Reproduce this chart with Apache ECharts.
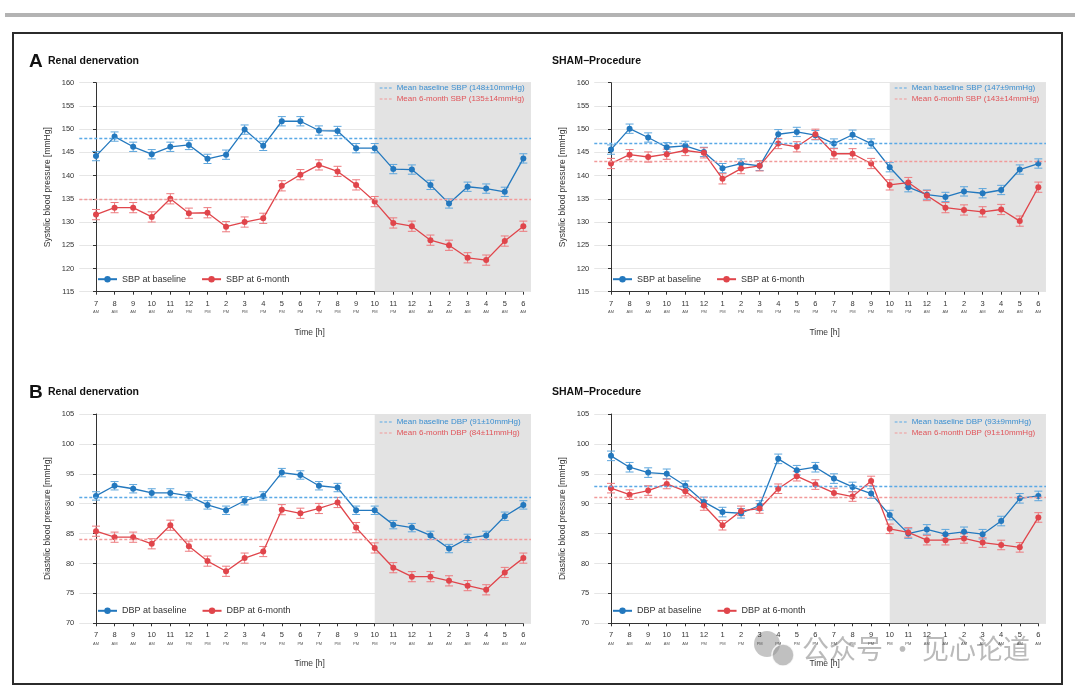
<!DOCTYPE html>
<html><head><meta charset="utf-8">
<script src="https://cdn.jsdelivr.net/npm/echarts@6/dist/echarts.min.js"></script>
<style>html,body{margin:0;padding:0;background:#fff}#c{width:1080px;height:695px}</style>
</head><body><div id="c"></div>
<script>
// ---------- data ----------
const hours = ['7','8','9','10','11','12','1','2','3','4','5','6','7','8','9','10','11','12','1','2','3','4','5','6'];
const meridiem = ['AM','AM','AM','AM','AM','PM','PM','PM','PM','PM','PM','PM','PM','PM','PM','PM','PM','AM','AM','AM','AM','AM','AM','AM'];
const nightStartIndex = 15; // 10 PM

const sbpRdnBaseline = [144.2,148.4,146.2,144.6,146.2,146.6,143.6,144.5,149.9,146.4,151.7,151.7,149.7,149.6,145.9,145.9,141.4,141.3,138.0,134.0,137.6,137.2,136.5,143.7];
const sbpRdn6m       = [131.6,133.1,133.1,131.1,135.0,131.9,132.0,129.0,130.0,130.8,137.8,140.2,142.3,140.9,138.0,134.4,129.8,129.1,126.1,125.0,122.3,121.8,125.9,129.1];
const sbpShamBaseline= [145.6,150.1,148.2,146.1,146.4,145.1,141.6,142.6,142.1,148.9,149.4,148.7,146.9,148.8,146.9,141.8,137.5,135.9,135.4,136.6,136.2,136.9,141.3,142.6];
const sbpSham6m      = [142.6,144.5,144.0,144.6,145.4,144.9,139.3,141.5,142.1,146.9,146.2,148.9,144.7,144.7,142.6,138.0,138.5,135.7,133.1,132.6,132.2,132.7,130.2,137.5];
const dbpRdnBaseline = [91.3,93.0,92.5,91.8,91.8,91.3,89.8,88.9,90.5,91.3,95.2,94.8,93.0,92.7,88.9,88.9,86.5,86.0,84.7,82.5,84.2,84.7,87.9,89.8];
const dbpRdn6m       = [85.4,84.4,84.4,83.3,86.4,82.9,80.4,78.7,80.9,82.0,89.0,88.4,89.2,90.2,86.0,82.6,79.3,77.8,77.8,77.1,76.3,75.6,78.5,80.9];
const dbpShamBaseline= [98.0,96.1,95.2,95.0,93.0,90.3,88.6,88.4,89.7,97.5,95.6,96.1,94.2,92.8,91.7,88.1,85.0,85.7,84.9,85.3,84.9,87.1,90.9,91.3];
const dbpSham6m      = [92.6,91.5,92.2,93.3,92.1,89.7,86.4,88.8,89.2,92.5,94.6,93.2,91.8,91.2,93.8,85.8,85.2,83.9,83.9,84.2,83.5,83.1,82.7,87.7];

const sbpRdnBaselineErr = [1.0,1.0,1.0,1.0,1.0,1.0,1.0,1.0,1.0,1.0,1.0,1.0,1.0,1.0,1.0,1.0,1.0,1.0,1.0,1.0,1.0,1.0,1.0,1.0];
const sbpRdn6mErr       = [1.1,1.1,1.1,1.1,1.1,1.1,1.1,1.1,1.1,1.1,1.1,1.1,1.1,1.1,1.1,1.1,1.1,1.1,1.1,1.1,1.1,1.1,1.1,1.1];
const sbpShamBaselineErr= [1.0,1.0,1.0,1.0,1.0,1.0,1.0,1.0,1.0,1.0,1.0,1.0,1.0,1.0,1.0,1.0,1.0,1.0,1.0,1.0,1.0,1.0,1.0,1.0];
const sbpSham6mErr      = [1.1,1.1,1.1,1.1,1.1,1.1,1.1,1.1,1.1,1.1,1.1,1.1,1.1,1.1,1.1,1.1,1.1,1.1,1.1,1.1,1.1,1.1,1.1,1.1];
const dbpRdnBaselineErr = [0.7,0.7,0.7,0.7,0.7,0.7,0.7,0.7,0.7,0.7,0.7,0.7,0.7,0.7,0.7,0.7,0.7,0.7,0.7,0.7,0.7,0.7,0.7,0.7];
const dbpRdn6mErr       = [0.85,0.85,0.85,0.85,0.85,0.85,0.85,0.85,0.85,0.85,0.85,0.85,0.85,0.85,0.85,0.85,0.85,0.85,0.85,0.85,0.85,0.85,0.85,0.85];
const dbpShamBaselineErr= [0.8,0.8,0.8,0.8,0.8,0.8,0.8,0.8,0.8,0.8,0.8,0.8,0.8,0.8,0.8,0.8,0.8,0.8,0.8,0.8,0.8,0.8,0.8,0.8];
const dbpSham6mErr      = [0.8,0.8,0.8,0.8,0.8,0.8,0.8,0.8,0.8,0.8,0.8,0.8,0.8,0.8,0.8,0.8,0.8,0.8,0.8,0.8,0.8,0.8,0.8,0.8];

const sbpRdnMeans = [148, 135];
const sbpShamMeans = [147, 143];
const dbpRdnMeans = [91, 84];
const dbpShamMeans = [93, 91];

// ---------- styles / layout ----------
const BLUE = '#2378be', RED = '#e0454b';
const BLUE_ERR = '#5ea6dc', RED_ERR = '#ec7a7e';
const BLUE_MEAN = '#5aa9e6', RED_MEAN = '#f19a9a';
const BLUE_TXT = '#3a8ed0', RED_TXT = '#e0555a';
const FONT = "'Liberation Sans', Arial, sans-serif";
const STEP = 18.58, X_MIN = -0.9, X_MAX = 23.41;
const DASH_ICON = 'path://M0,0h3v1h-3zM5,0h3v1h-3zM10,0h3v1h-3z';

const panels = [
  {cat0: 96, top: 82.7, bottom: 291.7, ymin: 115, ymax: 160, yName: 'Systolic blood pressure [mmHg]',
   base: sbpRdnBaseline, six: sbpRdn6m, baseErr: sbpRdnBaselineErr, sixErr: sbpRdn6mErr,
   means: sbpRdnMeans, sd: ['10','14'], kind: 'SBP', meanTop: 84},
  {cat0: 611, top: 82.7, bottom: 291.7, ymin: 115, ymax: 160, yName: 'Systolic blood pressure [mmHg]',
   base: sbpShamBaseline, six: sbpSham6m, baseErr: sbpShamBaselineErr, sixErr: sbpSham6mErr,
   means: sbpShamMeans, sd: ['9','14'], kind: 'SBP', meanTop: 84},
  {cat0: 96, top: 414, bottom: 623.3, ymin: 70, ymax: 105, yName: 'Diastolic blood pressure [mmHg]',
   base: dbpRdnBaseline, six: dbpRdn6m, baseErr: dbpRdnBaselineErr, sixErr: dbpRdn6mErr,
   means: dbpRdnMeans, sd: ['10','11'], kind: 'DBP', meanTop: 418},
  {cat0: 611, top: 414, bottom: 623.3, ymin: 70, ymax: 105, yName: 'Diastolic blood pressure [mmHg]',
   base: dbpShamBaseline, six: dbpSham6m, baseErr: dbpShamBaselineErr, sixErr: dbpSham6mErr,
   means: dbpShamMeans, sd: ['9','10'], kind: 'DBP', meanTop: 418}
];

const grid = [], xAxis = [], yAxis = [], series = [], legend = [];

function errRender(color) {
  return function (params, api) {
    const x = api.value(0), y = api.value(1), e = api.value(2);
    const hi = api.coord([x, y + e]), lo = api.coord([x, y - e]);
    const cw = 4;
    const st = {stroke: color, lineWidth: 1};
    return {type: 'group', children: [
      {type: 'line', shape: {x1: hi[0], y1: hi[1], x2: lo[0], y2: lo[1]}, style: st},
      {type: 'line', shape: {x1: hi[0] - cw, y1: hi[1], x2: hi[0] + cw, y2: hi[1]}, style: st},
      {type: 'line', shape: {x1: lo[0] - cw, y1: lo[1], x2: lo[0] + cw, y2: lo[1]}, style: st}
    ]};
  };
}

panels.forEach(p => {
  const gi = grid.length;
  const h = p.bottom - p.top;
  grid.push({left: p.cat0 + X_MIN * STEP, top: p.top, width: (X_MAX - X_MIN) * STEP, height: h, containLabel: false});
  grid.push({left: p.cat0, top: p.top, width: 23 * STEP, height: h, containLabel: false});
  const xi = xAxis.length, yi = yAxis.length;
  xAxis.push({type: 'value', gridIndex: gi, min: X_MIN, max: X_MAX, show: false});
  xAxis.push({type: 'category', gridIndex: gi + 1, data: hours, boundaryGap: false,
    axisLine: {show: true, lineStyle: {color: '#333', width: 1}},
    axisTick: {show: true, length: 3, alignWithLabel: true, lineStyle: {color: '#333'}},
    axisLabel: {interval: 0, margin: 7, color: '#333',
      formatter: (v, i) => `{n|${v}}\n{s|${meridiem[i]}}`,
      rich: {n: {fontSize: 7.5, lineHeight: 10, color: '#333', fontFamily: FONT},
             s: {fontSize: 4, lineHeight: 7, color: '#555', fontFamily: FONT}}},
    splitLine: {show: false},
    name: 'Time [h]', nameLocation: 'middle', nameGap: 36,
    nameTextStyle: {fontSize: 8.5, color: '#333', fontFamily: FONT}});
  yAxis.push({type: 'value', gridIndex: gi, min: p.ymin, max: p.ymax, interval: 5,
    axisLine: {show: true, lineStyle: {color: '#333', width: 1}},
    axisTick: {show: true, length: 3, lineStyle: {color: '#333'}},
    axisLabel: {fontSize: 7.5, color: '#333', margin: 5, fontFamily: FONT},
    splitLine: {show: true, lineStyle: {color: '#e6e6e6', width: 1}},
    name: p.yName, nameLocation: 'middle', nameGap: 27,
    nameTextStyle: {fontSize: 8.5, color: '#333', fontFamily: FONT}});
  yAxis.push({type: 'value', gridIndex: gi + 1, min: p.ymin, max: p.ymax, show: false});

  const baseName = p.kind + ' at baseline', sixName = p.kind + ' at 6-month';
  const meanBaseName = `Mean baseline ${p.kind} (${p.means[0]}±${p.sd[0]}mmHg)`;
  const mean6Name = `Mean 6-month ${p.kind} (${p.means[1]}±${p.sd[1]}mmHg)`;

  // night shading
  series.push({type: 'line', xAxisIndex: xi, yAxisIndex: yi, data: [], silent: true, z: 1,
    markArea: {silent: true, itemStyle: {color: '#e3e3e3'}, data: [[{xAxis: nightStartIndex}, {xAxis: X_MAX}]]}});
  // mean lines
  [[meanBaseName, p.means[0], BLUE_MEAN], [mean6Name, p.means[1], RED_MEAN]].forEach(([nm, val, col]) => {
    series.push({type: 'line', name: nm, xAxisIndex: xi, yAxisIndex: yi, data: [], z: 2,
      itemStyle: {color: col}, lineStyle: {color: col, type: [3, 2]}, symbol: 'none',
      markLine: {silent: true, symbol: ['none', 'none'], label: {show: false}, animation: false,
        lineStyle: {color: col, type: [3, 2], width: 1.3}, data: [{yAxis: val}]}});
  });
  // error bars
  [[p.base, p.baseErr, BLUE_ERR], [p.six, p.sixErr, RED_ERR]].forEach(([vals, errs, col]) => {
    series.push({type: 'custom', xAxisIndex: xi, yAxisIndex: yi, z: 3, silent: true,
      renderItem: errRender(col), encode: {x: 0, y: 1},
      data: vals.map((v, i) => [i, v, errs[i]])});
  });
  // lines
  [[baseName, p.base, BLUE], [sixName, p.six, RED]].forEach(([nm, vals, col]) => {
    series.push({type: 'line', name: nm, xAxisIndex: xi, yAxisIndex: yi, z: 4,
      data: vals.map((v, i) => [i, v]), symbol: 'circle', symbolSize: 6, showSymbol: true,
      itemStyle: {color: col}, lineStyle: {color: col, width: 1.3}, animation: false});
  });

  legend.push({left: p.cat0 + 1, top: p.bottom - 17, itemWidth: 19, itemHeight: 8, itemGap: 15,
    padding: 0, selectedMode: false, textStyle: {fontSize: 9, color: '#333', fontFamily: FONT},
    data: [baseName, sixName]});
  legend.push({left: p.cat0 + nightStartIndex * STEP + 5, top: p.meanTop, orient: 'vertical',
    itemWidth: 12, itemHeight: 2, itemGap: 3, padding: 0, selectedMode: false,
    textStyle: {fontSize: 8, fontFamily: FONT},
    data: [{name: meanBaseName, icon: DASH_ICON, textStyle: {color: BLUE_TXT}},
           {name: mean6Name, icon: DASH_ICON, textStyle: {color: RED_TXT}}]});
});

const graphic = [
  {type: 'rect', shape: {x: 5, y: 13, width: 1070, height: 4}, style: {fill: '#b3b3b3'}, silent: true},
  {type: 'rect', shape: {x: 13, y: 33, width: 1049, height: 651}, style: {fill: 'none', stroke: '#2b2b2b', lineWidth: 2}, silent: true},
  {type: 'text', x: 29, y: 52, style: {text: 'A', font: `bold 19px ${FONT}`, fill: '#111'}},
  {type: 'text', x: 48, y: 56, style: {text: 'Renal denervation', font: `bold 10.5px ${FONT}`, fill: '#111'}},
  {type: 'text', x: 552, y: 56, style: {text: 'SHAM\u2212Procedure', font: `bold 10.5px ${FONT}`, fill: '#111'}},
  {type: 'text', x: 29, y: 383, style: {text: 'B', font: `bold 19px ${FONT}`, fill: '#111'}},
  {type: 'text', x: 48, y: 387, style: {text: 'Renal denervation', font: `bold 10.5px ${FONT}`, fill: '#111'}},
  {type: 'text', x: 552, y: 387, style: {text: 'SHAM\u2212Procedure', font: `bold 10.5px ${FONT}`, fill: '#111'}},
  // watermark
  {type: 'group', z: 100, silent: true, children: [
    {type: 'circle', shape: {cx: 767, cy: 644, r: 13}, style: {fill: 'rgba(150,150,150,0.55)'}},
    {type: 'circle', shape: {cx: 783, cy: 655, r: 11}, style: {fill: 'rgba(150,150,150,0.6)', stroke: 'rgba(255,255,255,0.8)', lineWidth: 1.5}},
    {type: 'text', x: 802, y: 635, style: {text: '公众号 · 见心论道', font: "27px 'Noto Sans CJK SC'", fill: 'rgba(140,140,140,0.6)'}}
  ]}
];

const chart = echarts.init(document.getElementById('c'), null, {renderer: 'canvas'});
chart.setOption({
  animation: false,
  backgroundColor: '#fff',
  textStyle: {fontFamily: FONT},
  grid, xAxis, yAxis, series, legend, graphic,
  tooltip: {show: false}
});
</script>
</body></html>
